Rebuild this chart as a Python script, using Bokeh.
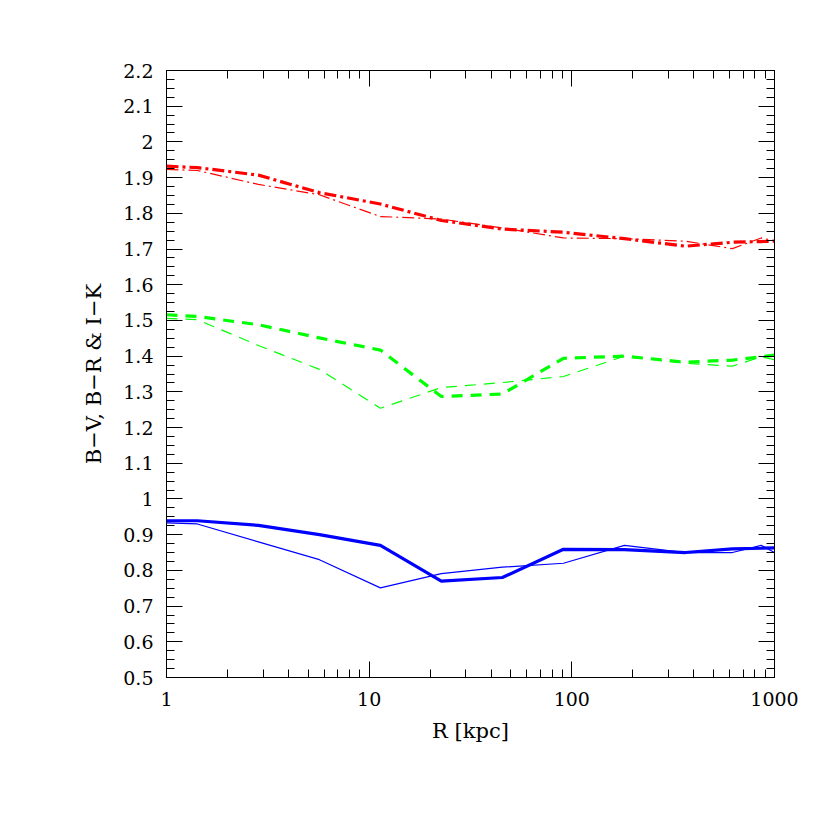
from bokeh.plotting import figure
from bokeh.models import LinearAxis, LogAxis, FixedTicker
from bokeh.embed import file_html
from bokeh.resources import INLINE

# ---- data ----
R_kpc = [1, 1.42, 2.84, 5.68, 11.36, 22.7, 45.4, 90.9, 181.8, 363.5, 620, 860, 1000]

bv_thick = [0.939, 0.939, 0.926, 0.900, 0.870, 0.770, 0.780, 0.859, 0.858, 0.850, 0.860, 0.862, 0.863]
bv_thin = [0.933, 0.930, 0.880, 0.830, 0.751, 0.791, 0.809, 0.820, 0.870, 0.850, 0.850, 0.870, 0.850]

br_thick = [1.516, 1.511, 1.488, 1.451, 1.417, 1.287, 1.294, 1.394, 1.400, 1.383, 1.389, 1.398, 1.403]
br_thin = [1.506, 1.502, 1.430, 1.363, 1.254, 1.312, 1.326, 1.343, 1.400, 1.380, 1.372, 1.398, 1.390]

ik_thick = [1.932, 1.928, 1.907, 1.858, 1.826, 1.780, 1.756, 1.747, 1.729, 1.708, 1.719, 1.721, 1.722]
ik_thin = [1.923, 1.920, 1.881, 1.852, 1.791, 1.784, 1.759, 1.731, 1.729, 1.722, 1.701, 1.731, 1.723]

x_ticks = [1, 10, 100, 1000]
x_tick_labels = ["1", "10", "100", "1000"]
x_minor = [m * d for d in [1, 10, 100] for m in range(2, 10)]
y_ticks = [0.5, 0.6, 0.7, 0.8, 0.9, 1.0, 1.1, 1.2, 1.3, 1.4, 1.5, 1.6, 1.7, 1.8, 1.9, 2.0, 2.1, 2.2]
y_tick_labels = ["0.5", "0.6", "0.7", "0.8", "0.9", "1", "1.1", "1.2", "1.3", "1.4", "1.5",
                 "1.6", "1.7", "1.8", "1.9", "2", "2.1", "2.2"]
y_minor = [round(0.5 + 0.025 * i, 3) for i in range(69)]

x_label = "R [kpc]"
y_label = "B\u2212V, B\u2212R & I\u2212K"

FONT = "DejaVu Serif"

p = figure(width=814, height=814, x_axis_type="log", x_range=(1, 1000), y_range=(0.5, 2.2),
           output_backend="svg", toolbar_location=None,
           min_border_left=166, min_border_right=40, min_border_top=70, min_border_bottom=137)
p.grid.visible = False
p.outline_line_color = "black"
p.background_fill_color = "white"
p.border_fill_color = "white"

# lines
p.line(R_kpc, ik_thin, line_color="#ff0000", line_width=1.2, line_dash="12 4 2 4")
p.line(R_kpc, br_thin, line_color="#00ff00", line_width=1.2, line_dash="11 8")
p.line(R_kpc, bv_thin, line_color="#0000ff", line_width=1.2)
p.line(R_kpc, ik_thick, line_color="#ff0000", line_width=3.2, line_dash="12 4 3 4")
p.line(R_kpc, br_thick, line_color="#00ff00", line_width=3.2, line_dash="11 8")
p.line(R_kpc, bv_thick, line_color="#0000ff", line_width=3.2)


def style(ax, labels=True):
    ax.axis_line_color = "black"
    ax.axis_line_width = 1
    ax.major_tick_in = 16
    ax.major_tick_out = 0
    ax.minor_tick_in = 8
    ax.minor_tick_out = 0
    ax.major_tick_line_color = "black"
    ax.minor_tick_line_color = "black"
    ax.major_label_text_font = FONT
    ax.major_label_text_font_size = "19px"
    ax.major_label_text_color = "black" if labels else None
    ax.axis_label_text_font = FONT
    ax.axis_label_text_font_size = "21px"
    ax.axis_label_text_font_style = "normal"
    ax.axis_label_text_color = "black"


xa = p.xaxis[0]
xa.ticker = FixedTicker(ticks=x_ticks, minor_ticks=x_minor)
xa.major_label_overrides = {t: l for t, l in zip(x_ticks, x_tick_labels)}
xa.axis_label = x_label
style(xa)
xa.major_label_standoff = 14
xa.axis_label_standoff = 10

ya = p.yaxis[0]
ya.ticker = FixedTicker(ticks=y_ticks, minor_ticks=y_minor)
ya.major_label_overrides = {t: l for t, l in zip(y_ticks, y_tick_labels)}
ya.axis_label = y_label
style(ya)
ya.major_label_standoff = 13
ya.axis_label_standoff = 14

top = LogAxis(ticker=FixedTicker(ticks=x_ticks, minor_ticks=x_minor))
style(top, labels=False)
p.add_layout(top, "above")

right = LinearAxis(ticker=FixedTicker(ticks=y_ticks, minor_ticks=y_minor))
style(right, labels=False)
p.add_layout(right, "right")

open("out.html", "w").write(file_html(p, INLINE))
